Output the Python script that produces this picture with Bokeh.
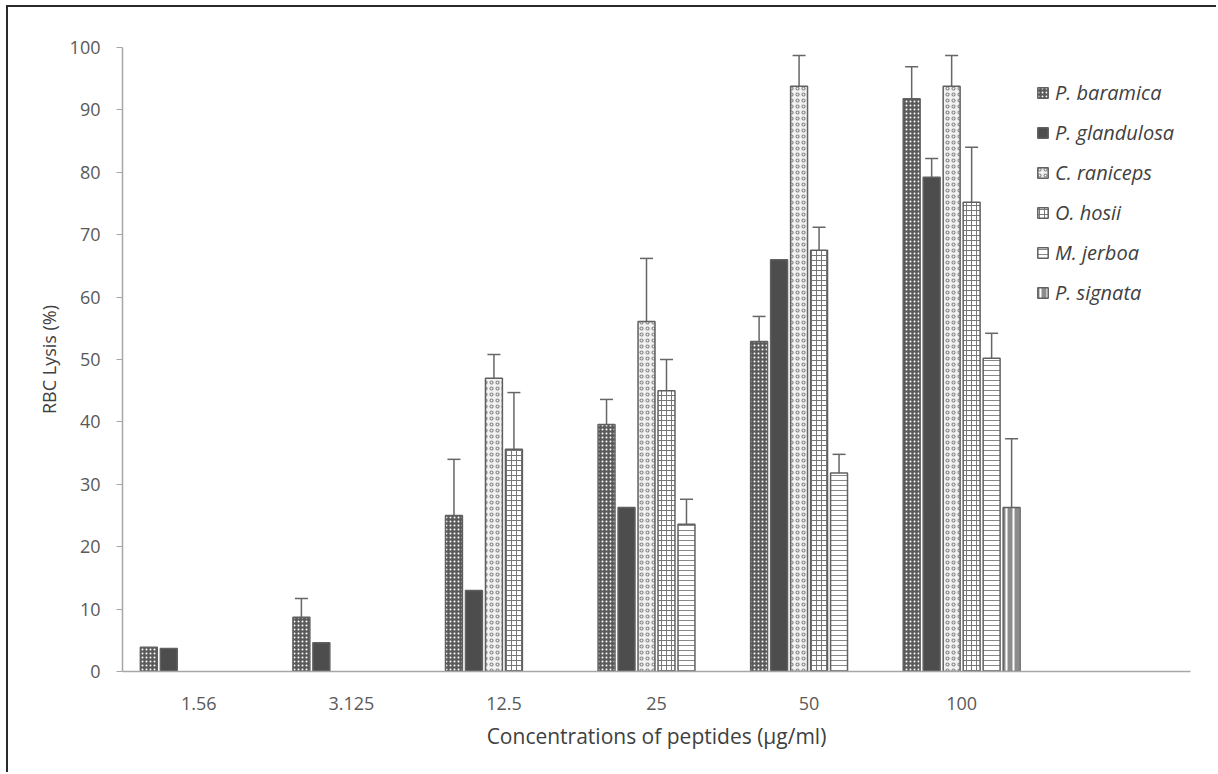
from bokeh.plotting import figure
from bokeh.models import ColumnDataSource, Whisker, TeeHead, FixedTicker, Legend, LegendItem
from bokeh.embed import file_html
from bokeh.resources import INLINE

categories = ["1.56", "3.125", "12.5", "25", "50", "100"]
series_names = ["P. baramica", "P. glandulosa", "C. raniceps", "O. hosii", "M. jerboa", "P. signata"]

baramica = [3.9, 8.7, 25.0, 39.6, 52.9, 91.8]
baramica_err = [0, 3.0, 9.0, 4.0, 4.0, 5.1]
glandulosa = [3.7, 4.6, 13.0, 26.3, 66.0, 79.2]
glandulosa_err = [0, 0, 0, 0, 0, 3.0]
raniceps = [0, 0, 47.0, 56.1, 93.8, 93.8]
raniceps_err = [0, 0, 3.8, 10.1, 4.9, 4.9]
hosii = [0, 0, 35.6, 45.0, 67.5, 75.2]
hosii_err = [0, 0, 9.1, 5.0, 3.7, 8.8]
jerboa = [0, 0, 0, 23.6, 31.8, 50.2]
jerboa_err = [0, 0, 0, 4.0, 3.0, 4.0]
signata = [0, 0, 0, 0, 0, 26.3]
signata_err = [0, 0, 0, 0, 0, 11.0]

values = [baramica, glandulosa, raniceps, hosii, jerboa, signata]
errors = [baramica_err, glandulosa_err, raniceps_err, hosii_err, jerboa_err, signata_err]

styles = [
    dict(fill_color="#5a5a5a", hatch_pattern="dot", hatch_color="white", hatch_scale=4, hatch_weight=2),
    dict(fill_color="#4d4d4d"),
    dict(fill_color="#f2f2f2", hatch_pattern="ring", hatch_color="#8a8a8a", hatch_scale=6, hatch_weight=1.2),
    dict(fill_color="white", hatch_pattern="cross", hatch_color="#777777", hatch_scale=5, hatch_weight=1),
    dict(fill_color="white", hatch_pattern="horizontal_line", hatch_color="#888888", hatch_scale=5, hatch_weight=1),
    dict(fill_color="#8c8c8c", hatch_pattern="vertical_line", hatch_color="white", hatch_scale=7, hatch_weight=2),
]

FONT = "Open Sans"

p = figure(width=1210, height=767, x_range=(0, 7), y_range=(0, 100),
           output_backend="svg", toolbar_location=None,
           min_border_left=114, min_border_right=28, min_border_top=40, min_border_bottom=103)
p.styles = {"margin-left": "6px", "margin-top": "5px",
            "border-left": "2px solid #2a2a2a", "border-top": "2px solid #2a2a2a"}
p.outline_line_color = None
p.xgrid.grid_line_color = None
p.ygrid.grid_line_color = None
p.background_fill_color = "white"
p.border_fill_color = "white"

n = len(series_names)
bar_w = 0.111
step = 0.131
items = []
for i, (name, vals, errs, st) in enumerate(zip(series_names, values, errors, styles)):
    off = (i - (n - 1) / 2) * step
    xs = [j + 0.5 + off for j, v in enumerate(vals) if v > 0]
    tops = [v for v in vals if v > 0]
    src = ColumnDataSource(dict(x=xs, top=tops))
    r = p.vbar(x="x", top="top", width=bar_w, source=src, line_color="#606060", line_width=1.5, **st)
    items.append(LegendItem(label=name, renderers=[r]))
    ex = [j + 0.5 + off for j, e in enumerate(errs) if e > 0]
    lo = [vals[j] for j, e in enumerate(errs) if e > 0]
    hi = [vals[j] + e for j, e in enumerate(errs) if e > 0]
    if ex:
        esrc = ColumnDataSource(dict(base=ex, lower=lo, upper=hi))
        w = Whisker(base="base", lower="lower", upper="upper", source=esrc,
                    line_color="#666666", line_width=1.5,
                    upper_head=TeeHead(size=13, line_color="#666666", line_width=1.5),
                    lower_head=None)
        p.add_layout(w)

# axes
p.xaxis.ticker = FixedTicker(ticks=[j + 0.5 for j in range(len(categories))])
p.xaxis.major_label_overrides = {j + 0.5: c for j, c in enumerate(categories)}
p.xaxis.major_tick_line_color = None
p.xaxis.minor_tick_line_color = None
p.xaxis.axis_line_color = "#a6a6a6"
p.xaxis.axis_line_width = 1.5
p.xaxis.major_label_standoff = 19
p.xaxis.major_label_text_font = FONT
p.xaxis.major_label_text_font_size = "18px"
p.xaxis.major_label_text_color = "#595959"
p.xaxis.axis_label = "Concentrations of peptides (µg/ml)"
p.xaxis.axis_label_text_font = FONT
p.xaxis.axis_label_text_font_size = "21px"
p.xaxis.axis_label_text_font_style = "normal"
p.xaxis.axis_label_text_color = "#404040"
p.xaxis.axis_label_standoff = 9

p.yaxis.ticker = FixedTicker(ticks=list(range(0, 101, 10)))
p.yaxis.axis_line_color = "#a6a6a6"
p.yaxis.axis_line_width = 1.5
p.yaxis.major_tick_line_color = "#a6a6a6"
p.yaxis.major_tick_out = 6
p.yaxis.major_tick_in = 0
p.yaxis.minor_tick_line_color = None
p.yaxis.major_label_standoff = 16
p.yaxis.major_label_text_font = FONT
p.yaxis.major_label_text_font_size = "18px"
p.yaxis.major_label_text_color = "#595959"
p.yaxis.axis_label = "RBC Lysis (%)"
p.yaxis.axis_label_text_font = FONT
p.yaxis.axis_label_text_font_size = "18px"
p.yaxis.axis_label_text_font_style = "normal"
p.yaxis.axis_label_text_color = "#404040"
p.yaxis.axis_label_standoff = 6

legend = Legend(items=items, location=(914, 365), orientation="vertical",
                glyph_width=13, glyph_height=13, label_height=27, spacing=13,
                padding=0, margin=0, label_standoff=6,
                label_text_font=FONT, label_text_font_size="20px",
                label_text_font_style="italic", label_text_color="#404040",
                border_line_color=None, background_fill_alpha=0)
p.add_layout(legend)

open("out.html", "w").write(file_html(p, INLINE))
